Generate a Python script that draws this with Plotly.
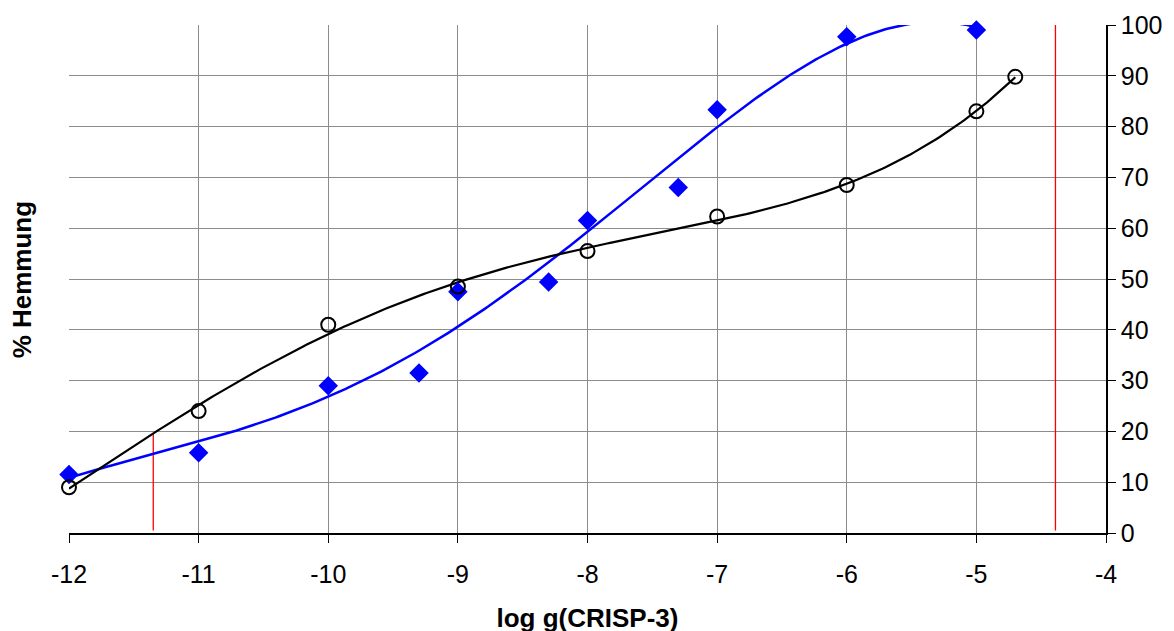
import numpy as np
import plotly.graph_objects as go

# Data
blue_x = [-12, -11, -10, -9.3, -9, -8.3, -8, -7.3, -7, -6, -5]
blue_y = [11.5, 15.8, 29.0, 31.5, 47.5, 49.4, 61.5, 68.0, 83.3, 97.7, 99.0]

black_x = [-12, -11, -10, -9, -8, -7, -6, -5, -4.7]
black_y = [9.0, 24.0, 41.0, 48.5, 55.5, 62.3, 68.5, 83.0, 89.8]

# Red marker lines (x position, top value)
red_x = [-11.35, -4.39]
red_top = [19.7, 100.0]

x_ticks = [-12, -11, -10, -9, -8, -7, -6, -5, -4]
y_ticks = [0, 10, 20, 30, 40, 50, 60, 70, 80, 90, 100]

POLY_ORDER = 4  # polynomial trendlines


def trend(xs, ys, order):
    c = np.polyfit(xs, ys, order)
    xx = np.linspace(min(xs), max(xs), 300)
    return xx, np.polyval(c, xx)


fig = go.Figure()

bx, by = trend(blue_x, blue_y, POLY_ORDER)
kx, ky = trend(black_x, black_y, POLY_ORDER)

for xv, top in zip(red_x, red_top):
    fig.add_trace(go.Scatter(x=[xv, xv], y=[0.5, top], mode="lines",
                             line=dict(color="#ff0000", width=1.3),
                             showlegend=False, hoverinfo="skip"))

fig.add_trace(go.Scatter(x=bx, y=by, mode="lines",
                         line=dict(color="#0000ff", width=2.5), showlegend=False))
fig.add_trace(go.Scatter(x=kx, y=ky, mode="lines",
                         line=dict(color="#000000", width=2.2), showlegend=False))
fig.add_trace(go.Scatter(x=blue_x, y=blue_y, mode="markers", cliponaxis=False,
                         marker=dict(symbol="diamond", size=15, color="#0000ff"),
                         showlegend=False))
fig.add_trace(go.Scatter(x=black_x, y=black_y, mode="markers", cliponaxis=False,
                         marker=dict(symbol="circle-open", size=14, color="#000000",
                                     line=dict(width=2, color="#000000")),
                         showlegend=False))

fig.update_layout(
    width=1174, height=631,
    margin=dict(l=61, r=76, t=17, b=106),
    paper_bgcolor="white", plot_bgcolor="white",
    font=dict(family="Liberation Sans, Arial, sans-serif", size=25, color="black"),
    xaxis=dict(range=[-12, -4], tickvals=x_ticks, ticktext=[str(t) for t in x_ticks],
               showgrid=True, gridcolor="#8c8c8c", gridwidth=1,
               showline=True, linecolor="black", linewidth=1.5,
               ticks="outside", ticklen=8, tickcolor="black",
               ticklabelstandoff=10,
               zeroline=False, automargin=False,
               tickfont=dict(size=25),
               title=dict(text="<b>log g(CRISP-3)</b>", font=dict(size=26), standoff=22)),
    yaxis=dict(range=[0, 100], tickvals=y_ticks, side="right",
               showgrid=True, gridcolor="#8c8c8c", gridwidth=1,
               showline=True, linecolor="black", linewidth=1.5,
               ticks="outside", ticklen=8, tickcolor="black",
               zeroline=False, automargin=False,
               tickfont=dict(size=25)),
    annotations=[dict(text="<b>% Hemmung</b>", x=-0.045, y=0.498,
                      xref="paper", yref="paper", xanchor="center", yanchor="middle",
                      showarrow=False, textangle=-90, font=dict(size=26))],
)

fig.write_html("out.html")
